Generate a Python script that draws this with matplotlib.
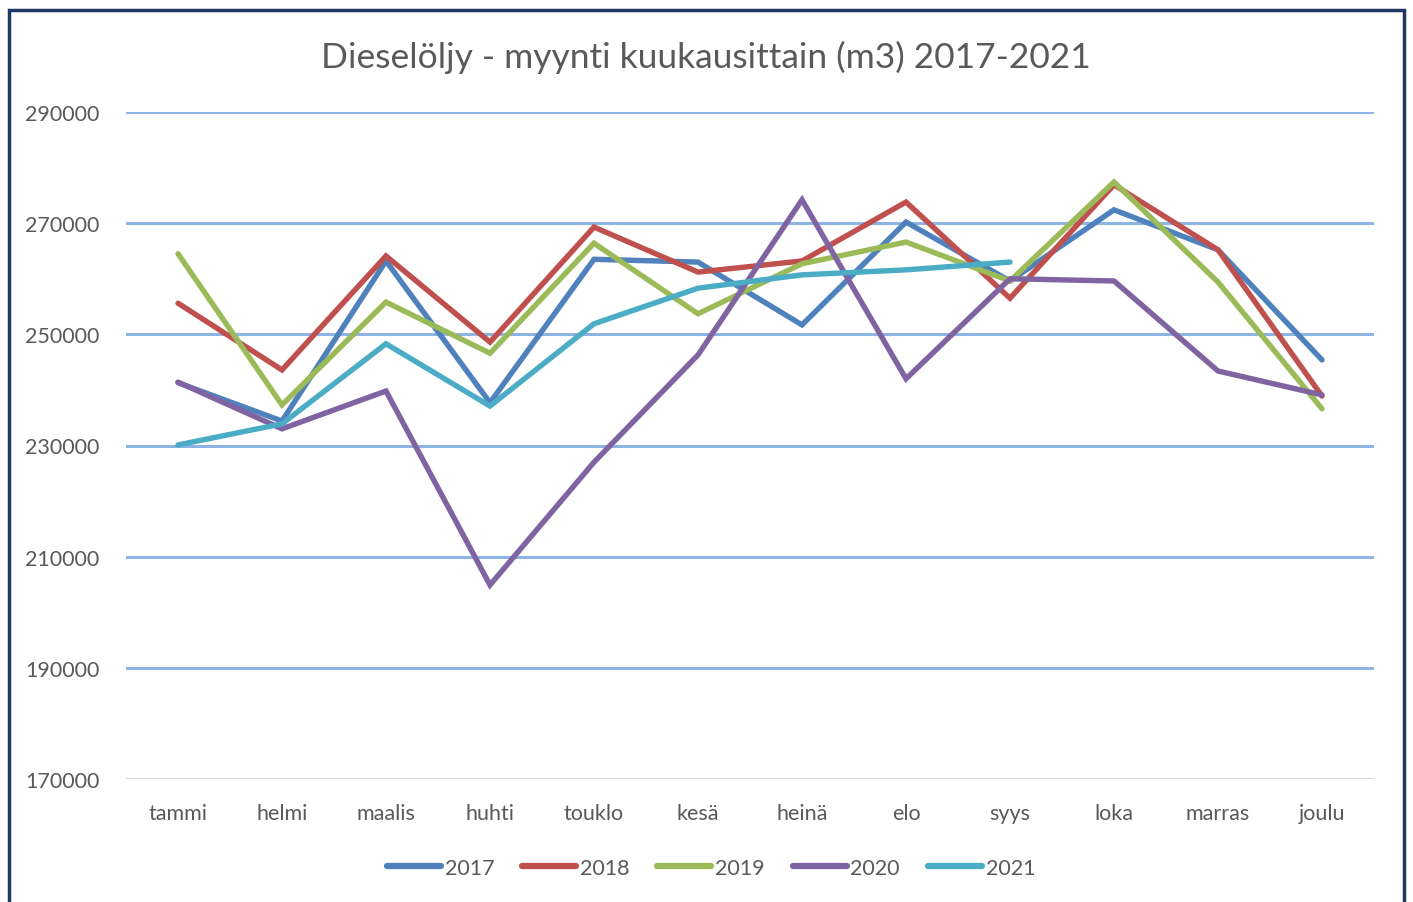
import matplotlib
matplotlib.use("Agg")
import matplotlib.pyplot as plt
from matplotlib.patches import Rectangle

plt.rcParams['font.family'] = ['Lato', 'DejaVu Sans']

months = ["tammi", "helmi", "maalis", "huhti", "touklo", "kesä", "heinä", "elo", "syys", "loka", "marras", "joulu"]
y2017 = [241300, 234400, 263200, 237700, 263500, 263000, 251700, 270200, 259600, 272400, 265200, 245400]
y2018 = [255600, 243600, 264100, 248600, 269300, 261200, 263200, 273800, 256500, 276900, 265200, 238900]
y2019 = [264500, 237300, 255800, 246600, 266400, 253700, 262700, 266600, 259600, 277400, 259400, 236600]
y2020 = [241400, 233000, 239800, 204900, 227000, 246300, 274200, 242000, 260000, 259600, 243400, 239100]
y2021 = [230100, 233900, 248300, 237100, 251900, 258300, 260700, 261600, 263000]
series = [("2017", y2017, "#4F81BD"), ("2018", y2018, "#C0504D"), ("2019", y2019, "#9BBB59"),
          ("2020", y2020, "#8064A2"), ("2021", y2021, "#4BACC6")]
yticks = [170000, 190000, 210000, 230000, 250000, 270000, 290000]

W, H = 1413, 903
fig = plt.figure(figsize=(W/100, H/100), dpi=100)
ax = fig.add_axes([126/W, 1-780/H, (1374-126)/W, (780-113)/H])

for name, vals, col in series:
    ax.plot(range(len(vals)), vals, color=col, lw=3.9, label=name,
            solid_joinstyle='miter', solid_capstyle='round')

ax.set_xlim(-0.5, 11.5)
ax.set_ylim(170000, 290000)
ax.set_yticks(yticks)
ax.set_yticklabels([str(v) for v in yticks])
ax.set_xticks(range(12))
ax.set_xticklabels(months)
ax.tick_params(length=0, labelsize=15.5, colors="#595959")
ax.tick_params(axis='x', pad=17)
ax.tick_params(axis='y', pad=19)
for s in ax.spines.values():
    s.set_visible(False)
for v in yticks[1:]:
    ax.axhline(v, color="#8EB4E3", lw=2.2, zorder=0)
ax.axhline(170000, color="#D9D9D9", lw=2.2, zorder=0)

fig.text(706/W, 1-57/H, "Dieselöljy - myynti kuukausittain (m3) 2017-2021", ha='center', va='center',
         fontsize=25.5, color="#595959")

leg = ax.legend(loc='center', bbox_to_anchor=(711/W, 1-869/H), bbox_transform=fig.transFigure,
                ncol=5, frameon=False, fontsize=15.5, handlelength=2.5, handletextpad=0.18,
                columnspacing=1.3, labelcolor="#595959")
for l in leg.get_lines():
    l.set_linewidth(4.5)
    l.set_solid_capstyle('round')

fig.patches.append(Rectangle((9/W, -0.2), (1404-9)/W, 1.2 - 11/H, transform=fig.transFigure,
                             fill=False, edgecolor="#1F3864", lw=2.5, clip_on=False))

fig.savefig("out.png", dpi=100)
